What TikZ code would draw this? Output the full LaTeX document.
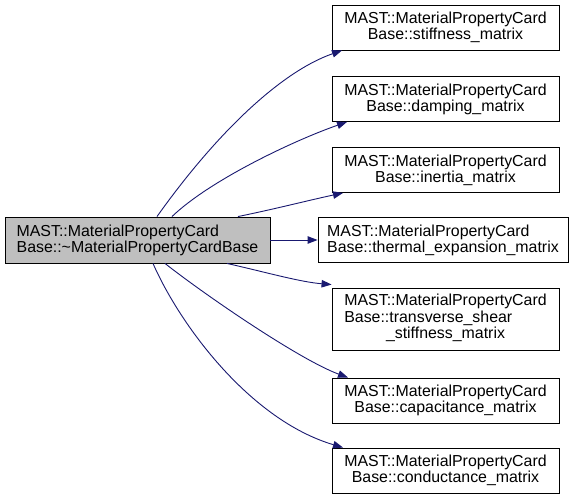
\documentclass[tikz,border=0pt]{standalone}
\usepackage{fontspec}
\setmainfont{Liberation Sans}
\usetikzlibrary{arrows.meta}
\definecolor{edgeblue}{HTML}{191970}
\definecolor{mainfill}{HTML}{BFBFBF}
\begin{document}
\begin{tikzpicture}[x=1pt,y=-1pt,
  box/.style={draw=black,line width=0.9pt,fill=white,inner sep=0pt,
    font=\fontsize{15.9}{16.2}\selectfont,minimum height=45pt},
  rbox/.style={box,minimum width=227pt,align=center},
  edge/.style={draw=edgeblue,line width=0.9pt,-{Triangle[length=10pt,width=7.5pt]}}]
\useasboundingbox (0,0) rectangle (579,500);
\node[box,fill=mainfill,minimum width=265pt,minimum height=46pt,align=left] (main) at (137.5,240)
  {MAST::MaterialPropertyCard\\Base::\textasciitilde MaterialPropertyCardBase};
\node[rbox] (t1) at (445.5,27.5) {MAST::MaterialPropertyCard\\Base::stiffness\_matrix};
\node[rbox] (t2) at (445.5,99) {MAST::MaterialPropertyCard\\Base::damping\_matrix};
\node[rbox] (t3) at (445.5,170) {MAST::MaterialPropertyCard\\Base::inertia\_matrix};
\node[box,minimum width=250pt,align=left] (t4) at (443,240) {MAST::MaterialPropertyCard\\Base::thermal\_expansion\_matrix};
\node[rbox,minimum height=62pt] (t5) at (445.5,319)
  {\renewcommand\arraystretch{1}\begin{tabular}{@{}l@{}}MAST::MaterialPropertyCard\\Base::transverse\_shear\\\multicolumn{1}{@{}c@{}}{\_stiffness\_matrix}\end{tabular}};
\node[rbox] (t6) at (445.5,400.5) {MAST::MaterialPropertyCard\\Base::capacitance\_matrix};
\node[rbox] (t7) at (445.5,470.5) {MAST::MaterialPropertyCard\\Base::conductance\_matrix};
\path[edge] ([xshift=19.5pt]main.north) .. controls (215,135) and (280,72) .. ([xshift=-103.5pt]t1.south);
\path[edge] ([xshift=34.5pt]main.north) .. controls (210,180) and (295,140) .. ([xshift=-98.5pt]t2.south);
\path[edge] ([xshift=100.5pt]main.north) .. controls (275,209) and (310,200) .. ([xshift=-102.5pt]t3.south);
\path[edge] (main.east) -- (t4.west);
\path[edge] ([xshift=89.5pt]main.south) .. controls (265,272) and (300,282) .. ([yshift=3pt]t5.north west);
\path[edge] ([xshift=27.5pt]main.south) .. controls (205,295) and (300,360) .. ([xshift=-97.5pt]t6.north);
\path[edge] ([xshift=15.5pt]main.south) .. controls (180,325) and (250,420) .. ([xshift=-102.5pt]t7.north);
\end{tikzpicture}
\end{document}
